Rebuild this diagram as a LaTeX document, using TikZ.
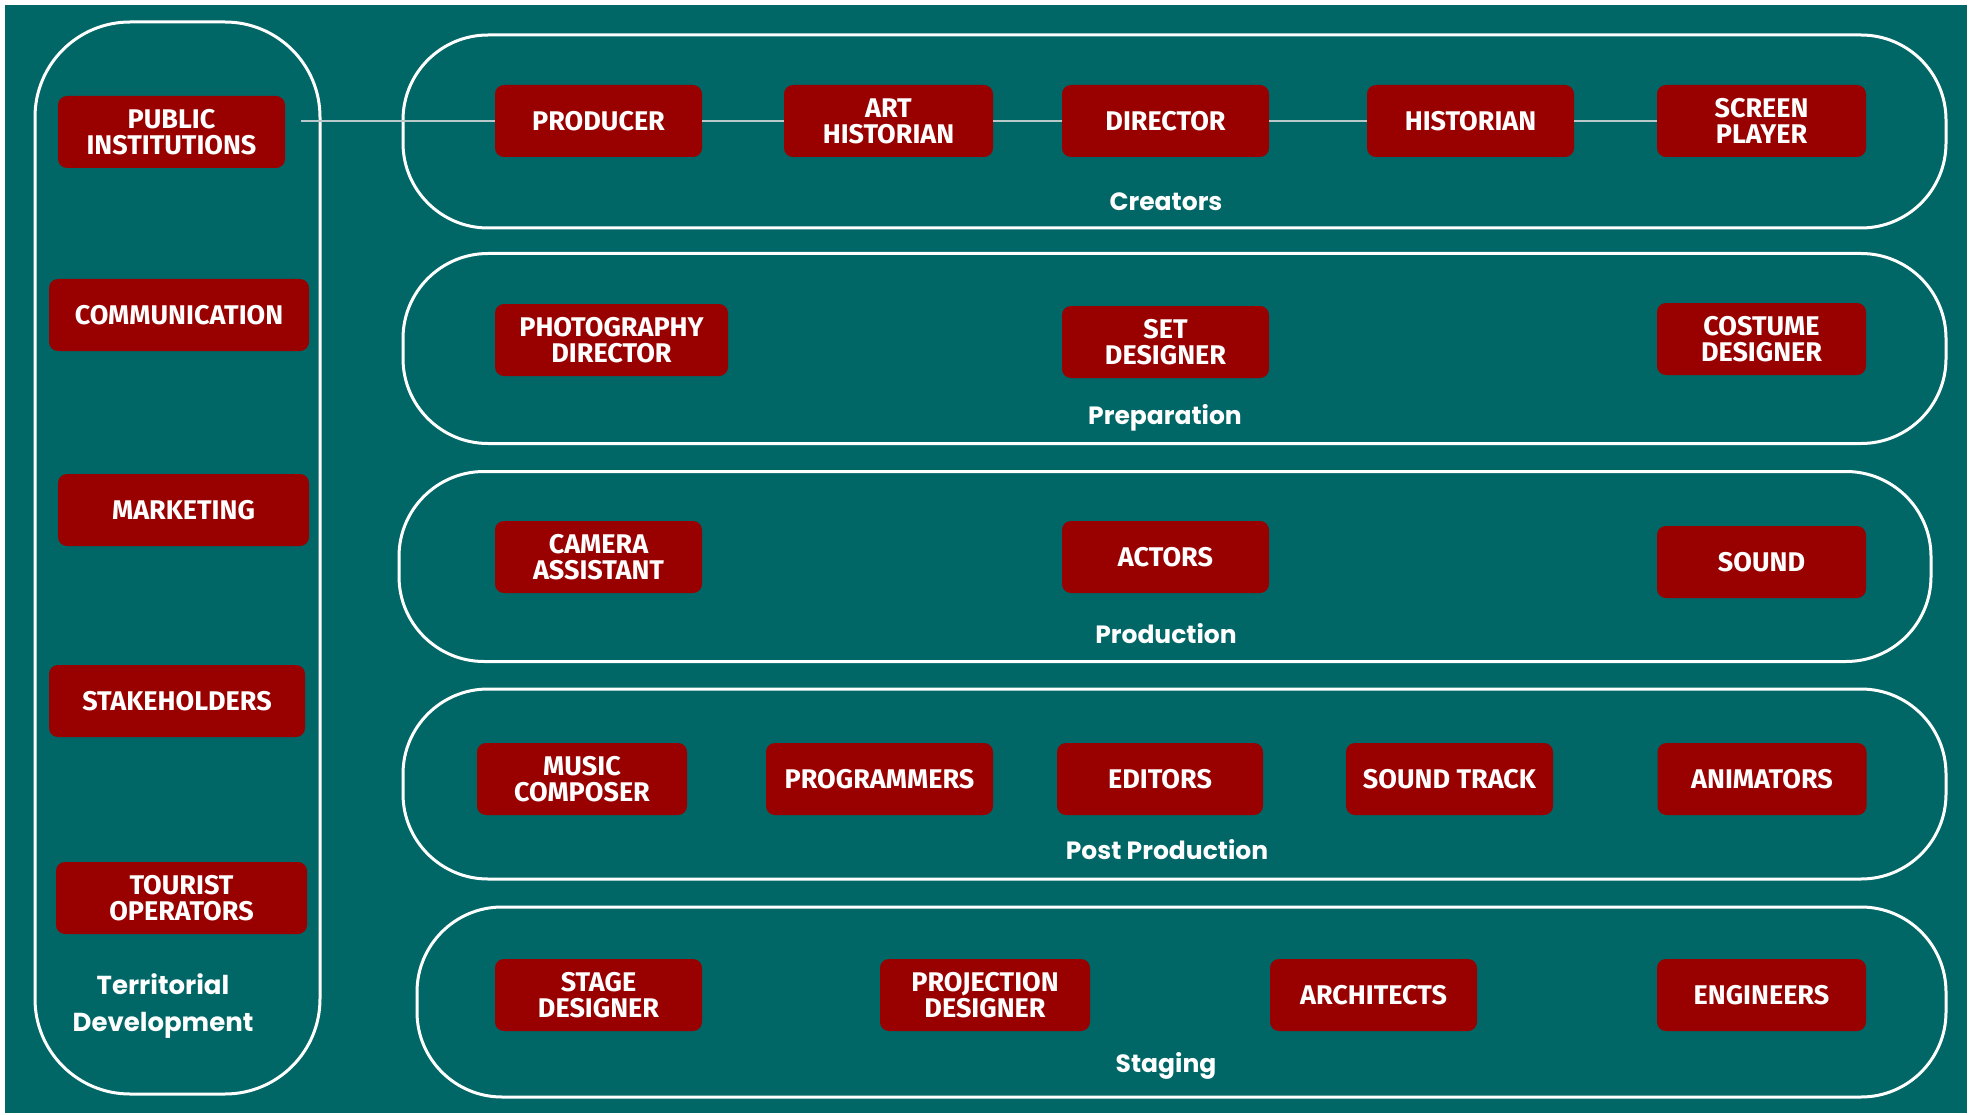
\documentclass[tikz,border=0pt]{standalone}
\usepackage{fontspec}
\setmainfont{Fira Sans}
\newfontfamily\labelfont{Poppins}
\definecolor{bgteal}{RGB}{0,102,102}
\definecolor{boxred}{RGB}{153,0,0}
\definecolor{linkgray}{RGB}{185,200,200}
\begin{document}
\begin{tikzpicture}[x=1pt,y=-1pt,
  role/.style={rectangle, rounded corners=9pt, fill=boxred, text=white, align=center,
    font=\fontsize{27}{26}\selectfont\bfseries, minimum width=207pt, minimum height=72pt, inner sep=0pt},
  phase/.style={rectangle, draw=white, line width=3pt, rounded corners=85pt, inner sep=0pt, minimum height=190pt},
  phaselabel/.style={text=white, font=\labelfont\fontsize{25}{37}\selectfont\bfseries, align=center}]
\useasboundingbox (0,0) rectangle (1975,1115);
\fill[bgteal] (5,5) rectangle (1967,1113);
% groups
\node[phase, rounded corners=95pt, minimum width=285pt, minimum height=1072pt] (territory) at (177.5,558){};
\node[phase, minimum width=1543pt, minimum height=193pt] (creators) at (1174.5,131.5){};
\node[phase, minimum width=1543pt] (preparation) at (1174.5,348.5){};
\node[phase, minimum width=1532pt] (production) at (1165,566.5){};
\node[phase, minimum width=1543pt] (postprod) at (1174.5,784){};
\node[phase, minimum width=1529pt] (staging) at (1181.5,1002){};
\node[phaselabel] (lcreators) at (1166,202){Creators};
\node[phaselabel] (lpreparation) at (1165,418){Preparation};
\node[phaselabel] (lproduction) at (1166,634){Production};
\node[phaselabel] (lpostprod) at (1167,850){Post Production};
\node[phaselabel] (lstaging) at (1166,1066){Staging};
\node[phaselabel, font=\labelfont\fontsize{26}{37}\selectfont\bfseries] (lterritory) at (163,1006){Territorial\\Development};
% territorial development
\node[role, minimum width=227pt] (pubinst) at (171.5,132){PUBLIC\\INSTITUTIONS};
\node[role, minimum width=260pt] (comm) at (179,315){COMMUNICATION};
\node[role, minimum width=251pt] (mark) at (183.5,510){MARKETING};
\node[role, minimum width=256pt] (stake) at (177,701){STAKEHOLDERS};
\node[role, minimum width=251pt] (tour) at (181.5,898){TOURIST\\OPERATORS};
% creators
\node[role] (producer) at (598.5,121){PRODUCER};
\node[role, minimum width=209pt] (arthist) at (888.5,121){ART\\HISTORIAN};
\node[role] (director) at (1165.5,121){DIRECTOR};
\node[role] (historian) at (1470.5,121){HISTORIAN};
\node[role, minimum width=209pt] (screen) at (1761.5,121){SCREEN\\PLAYER};
\draw[linkgray, line width=1.5pt, shorten <=16pt] (producer.west -| pubinst.east) -- (producer);
\draw[linkgray, line width=1.5pt] (producer) -- (arthist);
\draw[linkgray, line width=1.5pt] (arthist) -- (director);
\draw[linkgray, line width=1.5pt] (director) -- (historian);
\draw[linkgray, line width=1.5pt] (historian) -- (screen);
% preparation
\node[role, minimum width=233pt] (photodir) at (611.5,340){PHOTOGRAPHY\\DIRECTOR};
\node[role] (setdes) at (1165.5,342){SET\\DESIGNER};
\node[role, minimum width=209pt] (costume) at (1761.5,339){COSTUME\\DESIGNER};
% production
\node[role] (camera) at (598.5,557){CAMERA\\ASSISTANT};
\node[role] (actors) at (1165.5,557){ACTORS};
\node[role, minimum width=209pt] (sound) at (1761.5,562){SOUND};
% post production
\node[role, minimum width=210pt] (music) at (582,779){MUSIC\\COMPOSER};
\node[role, minimum width=227pt] (prog) at (879.5,779){PROGRAMMERS};
\node[role, minimum width=206pt] (editors) at (1160,779){EDITORS};
\node[role] (soundtrack) at (1449.5,779){SOUND TRACK};
\node[role, minimum width=209pt] (animators) at (1762,779){ANIMATORS};
% staging
\node[role] (stage) at (598.5,995){STAGE\\DESIGNER};
\node[role, minimum width=210pt] (projection) at (985,995){PROJECTION\\DESIGNER};
\node[role] (architects) at (1373.5,995){ARCHITECTS};
\node[role, minimum width=209pt] (engineers) at (1761.5,995){ENGINEERS};
\end{tikzpicture}
\end{document}
